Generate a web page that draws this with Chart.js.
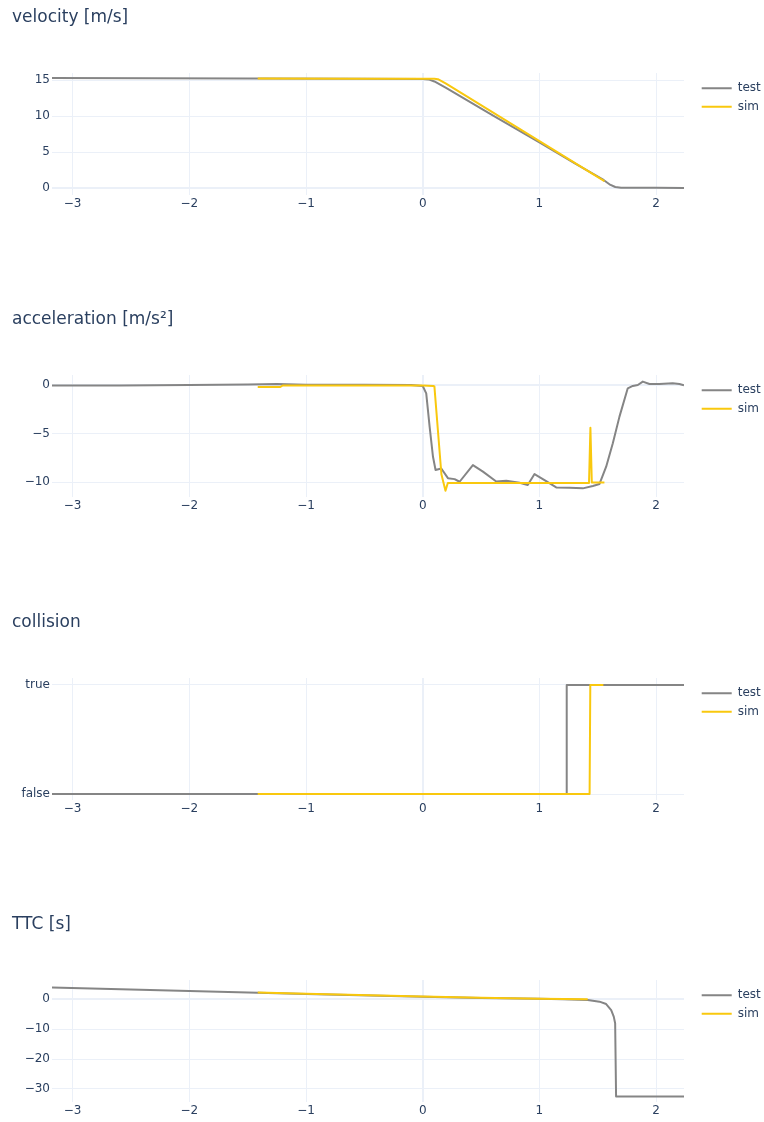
<!DOCTYPE html>
<html>
<head>
<meta charset="utf-8">
<title>test vs sim</title>
<script src="https://cdn.jsdelivr.net/npm/chart.js@4.4.1/dist/chart.umd.min.js"></script>
<style>
  html, body { margin: 0; padding: 0; background: #fff; }
  body { width: 764px; height: 1122px; position: relative; overflow: hidden; }
  .panel { position: absolute; left: 0; width: 764px; height: 214px; }
  .panel canvas { display: block; }
</style>
</head>
<body>
<div class="panel" style="top:0px"><canvas id="velocity" width="764" height="214"></canvas></div>
<div class="panel" style="top:302px"><canvas id="acceleration" width="764" height="214"></canvas></div>
<div class="panel" style="top:605px"><canvas id="collision" width="764" height="214"></canvas></div>
<div class="panel" style="top:907px"><canvas id="ttc" width="764" height="214"></canvas></div>
<script>
// ---- series ----
const seriesNames = ['test', 'sim'];
const seriesColors = ['#858585', '#F9C80E'];

// time axis [s]
const timeRange = [-3.177, 2.239];
const timeTicks = [-3, -2, -1, 0, 1, 2];

// velocity [m/s]
const velocityTicks = [0, 5, 10, 15];
const velocityTestT = [-3.177, -2.3, -1.5, -0.5, 0.0, 0.05, 0.1, 0.2, 0.6, 1.0, 1.3, 1.55, 1.6, 1.65, 1.7, 1.8, 2.0, 2.239];
const velocityTestV = [15.28, 15.25, 15.2, 15.17, 15.15, 15.08, 14.8, 13.9, 10.1, 6.35, 3.5, 1.15, 0.55, 0.18, 0.06, 0.08, 0.07, 0.03];
const velocitySimT = [-1.414, -0.5, 0.1, 0.13, 0.2, 1.557];
const velocitySimV = [15.2, 15.18, 15.17, 15.12, 14.5, 1.0];

// acceleration [m/s²]
const accelTicks = [-10, -5, 0];
const accelTestT = [-3.177, -2.6, -2.0, -1.5, -1.25, -1.0, -0.5, -0.1, 0.0, 0.03, 0.059, 0.088, 0.11, 0.159, 0.216, 0.273, 0.316, 0.43, 0.516, 0.63, 0.716, 0.83, 0.9, 0.958, 1.058, 1.144, 1.258, 1.372, 1.458, 1.515, 1.572, 1.629, 1.686, 1.757, 1.8, 1.843, 1.886, 1.943, 2.028, 2.142, 2.2, 2.239];
const accelTestV = [-0.05, -0.06, 0.0, 0.05, 0.1, 0.02, 0.03, 0.0, -0.1, -0.86, -4.3, -7.4, -8.76, -8.6, -9.6, -9.7, -9.97, -8.25, -8.93, -9.95, -9.86, -10.07, -10.3, -9.18, -9.9, -10.55, -10.58, -10.65, -10.4, -10.2, -8.42, -6.0, -3.26, -0.34, -0.1, 0.0, 0.35, 0.1, 0.1, 0.17, 0.1, -0.03];
const accelSimT = [-1.414, -1.22, -1.2, 0.0, 0.09, 0.1, 0.16, 0.195, 0.215, 1.425, 1.437, 1.449, 1.557];
const accelSimV = [-0.2, -0.2, -0.05, -0.05, -0.1, -0.15, -9.2, -10.9, -10.1, -10.1, -4.4, -10.05, -10.05];

// collision flag
const collisionLabels = ['false', 'true'];
const collisionTestT = [-3.177, 1.228, 1.234, 2.239];
const collisionTestV = [false, false, true, true];
const collisionSimT = [-1.414, 1.43, 1.436, 1.548];
const collisionSimV = [false, false, true, true];

// time to collision [s]
const ttcTicks = [-30, -20, -10, 0];
const ttcTestT = [-3.177, -2.0, -1.414, -1.0, 0.0, 0.5, 1.0, 1.2, 1.414, 1.515, 1.572, 1.615, 1.637, 1.649, 1.657, 2.239];
const ttcTestV = [3.9, 2.75, 2.2, 1.8, 0.85, 0.45, 0.15, 0.0, -0.23, -0.8, -1.6, -3.6, -5.8, -8.0, -32.5, -32.5];
const ttcSimT = [-1.414, -1.0, 0.0, 0.5, 1.0, 1.414];
const ttcSimV = [2.25, 1.85, 0.9, 0.5, 0.2, 0.0];

// ---- styling ----
const FONT = '"DejaVu Sans", Verdana, sans-serif';
const INK = '#2a3f5f';
const GRID = '#EBF0F8';
const CANVAS_W = 764, CANVAS_H = 214;
const PLOT_LEFT = 52, PLOT_RIGHT = 684, PLOT_BOTTOM = 194.5;
const PAD_LEFT = 12;
const LEGEND_PAD = 6.4, LEGEND_LINE = 30, LEGEND_FONT = 12;

Chart.defaults.font.family = FONT;
Chart.defaults.font.size = 12;
Chart.defaults.color = INK;

function pts(t, v) { return t.map((x, i) => ({ x, y: v[i] })); }
function signed(v) { return v < 0 ? '\u2212' + Math.abs(v) : String(v); }

// width the right-hand legend box takes, so the plot ends where wanted
function legendBoxWidth() {
  const ctx = document.createElement('canvas').getContext('2d');
  ctx.font = LEGEND_FONT + 'px ' + FONT;
  const tw = Math.max(...seriesNames.map(s => ctx.measureText(s).width));
  return LEGEND_PAD + LEGEND_LINE + LEGEND_FONT / 2 + tw + 10;
}
const PAD_RIGHT = Math.max(0, CANVAS_W - PLOT_RIGHT - legendBoxWidth());

// move the legend a little right/down from the plot corner
const legendNudge = {
  id: 'legendNudge',
  afterLayout(chart) {
    const lg = chart.legend;
    if (!lg) return;
    const dx = 11.3, dy = 2.9;
    lg.left += dx; lg.right += dx; lg.top += dy; lg.bottom += dy;
  }
};

function makeChart(id, title, testT, testV, simT, simV, yOpts) {
  const gridWidth = (zero) => (c) => (zero && c.tick && c.tick.value === 0) ? 2 : 1;
  return new Chart(document.getElementById(id), {
    type: 'line',
    data: {
      datasets: [
        { label: seriesNames[0], data: pts(testT, testV), borderColor: seriesColors[0], backgroundColor: seriesColors[0],
          borderWidth: 2, pointRadius: 0, borderJoinStyle: 'round', order: 1 },
        { label: seriesNames[1], data: pts(simT, simV), borderColor: seriesColors[1], backgroundColor: seriesColors[1],
          borderWidth: 2, pointRadius: 0, borderJoinStyle: 'round', order: 0 }
      ]
    },
    options: {
      responsive: false,
      animation: false,
      events: [],
      layout: { padding: { left: PAD_LEFT, right: PAD_RIGHT, top: 0, bottom: 0 } },
      plugins: {
        tooltip: { enabled: false },
        title: {
          display: true, text: title, align: 'start', color: INK,
          font: { family: FONT, size: 17, weight: 'normal' },
          padding: { top: 7.4, bottom: 45.2 }
        },
        legend: {
          display: true, position: 'right', align: 'start', fullSize: false,
          labels: {
            usePointStyle: true, pointStyle: 'line', pointStyleWidth: LEGEND_LINE,
            padding: LEGEND_PAD, color: INK, font: { family: FONT, size: LEGEND_FONT },
            sort: (a, b) => a.datasetIndex - b.datasetIndex
          }
        }
      },
      scales: {
        x: {
          type: 'linear', min: timeRange[0], max: timeRange[1],
          afterBuildTicks: s => { s.ticks = timeTicks.map(v => ({ value: v })); },
          afterFit: s => { s.height = CANVAS_H - PLOT_BOTTOM; },
          ticks: { callback: v => signed(v), padding: 2.5, color: INK, maxRotation: 0, autoSkip: false, font: { size: 12 } },
          grid: { color: GRID, lineWidth: gridWidth(true), drawTicks: false },
          border: { display: false }
        },
        y: {
          type: 'linear', min: yOpts.min, max: yOpts.max,
          afterBuildTicks: s => { s.ticks = yOpts.ticks.map(v => ({ value: v })); },
          afterFit: s => { s.width = PLOT_LEFT - PAD_LEFT; },
          ticks: { callback: yOpts.label, padding: 2, color: INK, autoSkip: false, font: { size: 12 } },
          grid: { color: GRID, lineWidth: gridWidth(yOpts.zero), drawTicks: false },
          border: { display: false }
        }
      }
    },
    plugins: [legendNudge]
  });
}

makeChart('velocity', 'velocity [m/s]', velocityTestT, velocityTestV, velocitySimT, velocitySimV,
  { min: -0.86, max: 15.97, ticks: velocityTicks, label: v => signed(v), zero: true });

makeChart('acceleration', 'acceleration [m/s²]', accelTestT, accelTestV, accelSimT, accelSimV,
  { min: -11.49, max: 1.03, ticks: accelTicks, label: v => signed(v), zero: true });

makeChart('collision', 'collision',
  collisionTestT, collisionTestV.map(b => b ? 1 : 0),
  collisionSimT, collisionSimV.map(b => b ? 1 : 0),
  { min: -0.05, max: 1.064, ticks: [0, 1], label: v => collisionLabels[v], zero: false });

makeChart('ttc', 'TTC [s]', ttcTestT, ttcTestV, ttcSimT, ttcSimV,
  { min: -34.2, max: 6.45, ticks: ttcTicks, label: v => signed(v), zero: true });
</script>
</body>
</html>
